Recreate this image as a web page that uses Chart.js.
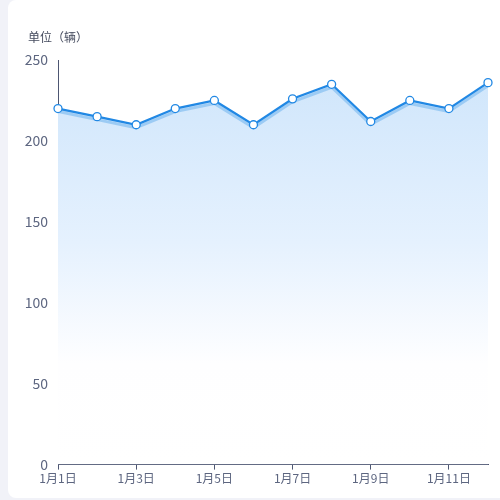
<!DOCTYPE html>
<html>
<head>
<meta charset="utf-8">
<script src="https://cdn.jsdelivr.net/npm/chart.js@4/dist/chart.umd.min.js"></script>
<style>
  html, body { margin: 0; padding: 0; width: 500px; height: 500px; background: #f1f2f8; overflow: hidden; }
  #card { position: absolute; left: 8px; top: 0; width: 500px; height: 498px; background: #fff; border-radius: 8px; }
  #wrap { position: absolute; left: 0; top: 0; width: 492px; height: 498px; }
</style>
</head>
<body>
<div id="card"><div id="wrap"><canvas id="c"></canvas></div></div>
<script>
const categories = ['1月1日','1月2日','1月3日','1月4日','1月5日','1月6日','1月7日','1月8日','1月9日','1月10日','1月11日','1月12日'];
const vehicles = [220, 215, 210, 220, 225, 210, 226, 235, 212, 225, 220, 236];
const unitLabel = '单位（辆）';
const yMin = 0, yMax = 250, yStep = 50;

const FONT = '"Noto Sans CJK SC", "Noto Sans", sans-serif';
const axisColor = '#4d5672';
const textColor = '#5d6680';

const shadowLine = {
  id: 'shadowLine',
  beforeDatasetDraw(chart, args) {
    const meta = chart.getDatasetMeta(args.index);
    const pts = meta.data;
    const ctx = chart.ctx;
    ctx.save();
    ctx.beginPath();
    ctx.rect(chart.chartArea.left, chart.chartArea.top - 10, chart.chartArea.right - chart.chartArea.left, chart.chartArea.bottom - chart.chartArea.top + 10);
    ctx.clip();
    ctx.beginPath();
    pts.forEach((p, i) => { if (i === 0) ctx.moveTo(p.x, p.y + 3); else ctx.lineTo(p.x, p.y + 3); });
    ctx.strokeStyle = 'rgba(150,200,243,0.9)';
    ctx.lineWidth = 3;
    ctx.lineJoin = 'round';
    ctx.stroke();
    ctx.restore();
  }
};

const unitTitle = {
  id: 'unitTitle',
  afterDraw(chart) {
    const ctx = chart.ctx;
    ctx.save();
    ctx.font = '12px ' + FONT;
    ctx.fillStyle = '#454b5e';
    ctx.textAlign = 'left';
    ctx.textBaseline = 'middle';
    ctx.fillText(unitLabel, 20, 37);
    ctx.restore();
  }
};

new Chart(document.getElementById('c'), {
  type: 'line',
  data: {
    labels: categories,
    datasets: [{
      data: vehicles,
      borderColor: '#2188e4',
      borderWidth: 2.2,
      tension: 0,
      fill: 'origin',
      backgroundColor(context) {
        const area = context.chart.chartArea;
        if (!area) return 'rgba(207,229,251,1)';
        const g = context.chart.ctx.createLinearGradient(0, area.top, 0, area.bottom);
        g.addColorStop(0, 'rgb(206,229,251)');
        g.addColorStop(0.45, 'rgb(229,241,254)');
        g.addColorStop(0.75, 'rgb(254,254,255)');
        g.addColorStop(1, 'rgb(255,255,255)');
        return g;
      },
      pointRadius: 4,
      pointBorderWidth: 1.3,
      pointBackgroundColor: '#ffffff',
      pointBorderColor: '#2188e4',
      pointHoverRadius: 4
    }]
  },
  options: {
    responsive: true,
    maintainAspectRatio: false,
    animation: false,
    layout: { padding: { top: 60, right: 12, left: 0, bottom: 10 } },
    plugins: { legend: { display: false }, tooltip: { enabled: false }, title: { display: false } },
    scales: {
      x: {
        offset: false,
        grid: { display: true, drawOnChartArea: false, drawTicks: true, tickLength: 5, color: axisColor, tickColor: axisColor },
        border: { display: true, color: axisColor, width: 1 },
        ticks: { autoSkip: true, maxTicksLimit: 6, maxRotation: 0, padding: 2, color: textColor, font: { family: FONT, size: 12 } }
      },
      y: {
        min: yMin, max: yMax,
        afterFit(scale) { scale.width = 50; },
        grid: { display: false, drawTicks: false },
        border: { display: true, color: axisColor, width: 1 },
        ticks: { stepSize: yStep, padding: 10, color: textColor, font: { family: FONT, size: 14 } }
      }
    }
  },
  plugins: [shadowLine, unitTitle]
});
</script>
</body>
</html>
